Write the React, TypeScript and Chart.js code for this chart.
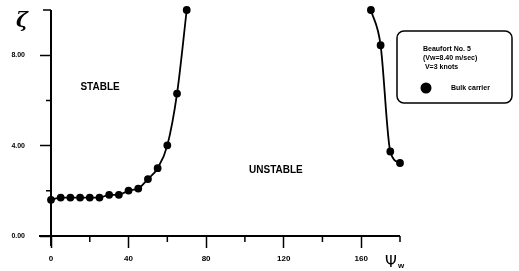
import React, { useEffect, useRef } from "react";
import { Chart, registerables } from "chart.js";
Chart.register(...registerables);

// Heading angle psi_w (deg) and zeta values
const anglesLeft = [0, 5, 10, 15, 20, 25, 30, 35, 40, 45, 50, 55, 60, 65, 70];
const zetaLeft = [1.6, 1.7, 1.7, 1.7, 1.7, 1.7, 1.82, 1.82, 2.01, 2.1, 2.52, 3.0, 4.01, 6.3, 10.0];
const anglesRight = [165, 170, 175, 180];
const zetaRight = [10.0, 8.44, 3.74, 3.23];

const xTickStep = 20;
const xLabelStep = 40;
const yTickStep = 2;
const yLabelStep = 4;

const seriesName = "Bulk carrier";
const legendLines = ["Beaufort No. 5", "(Vw=8.40 m/sec)", " V=3 knots"];
const regionLabels = [
  { text: "STABLE", x: 25.3, y: 6.6 },
  { text: "UNSTABLE", x: 116, y: 2.9 },
];

const FONT = "'Liberation Sans', Arial, sans-serif";

const decor = {
  id: "decor",
  afterDraw(chart: any) {
    const ctx = chart.ctx as CanvasRenderingContext2D;
    const xs = chart.scales.x;
    const ys = chart.scales.y;
    const x0 = xs.getPixelForValue(0);
    const xEnd = xs.getPixelForValue(180);
    const y0 = ys.getPixelForValue(0);
    const yTop = ys.getPixelForValue(10);
    ctx.save();
    ctx.strokeStyle = "#000";
    ctx.fillStyle = "#000";
    // axes lines
    ctx.lineWidth = 2;
    ctx.beginPath();
    ctx.moveTo(x0, yTop);
    ctx.lineTo(x0, y0 + 10);
    ctx.moveTo(x0 - 12, y0);
    ctx.lineTo(xEnd, y0);
    ctx.stroke();
    // minor ticks
    ctx.lineWidth = 1.5;
    ctx.beginPath();
    for (let v = 0; v <= 180; v += xTickStep) {
      if (v % xLabelStep === 0) continue;
      const px = xs.getPixelForValue(v);
      ctx.moveTo(px, y0);
      ctx.lineTo(px, y0 + 6);
    }
    for (let v = 0; v <= 10; v += yTickStep) {
      if (v % yLabelStep === 0) continue;
      const py = ys.getPixelForValue(v);
      ctx.moveTo(x0, py);
      ctx.lineTo(x0 - (v === 10 ? 8 : 5), py);
    }
    ctx.stroke();

    // region labels
    ctx.font = `bold 10px ${FONT}`;
    ctx.textAlign = "center";
    ctx.textBaseline = "middle";
    for (const r of regionLabels) {
      ctx.fillText(r.text, xs.getPixelForValue(r.x), ys.getPixelForValue(r.y));
    }

    // axis titles
    ctx.font = `italic bold 20px 'DejaVu Serif', serif`;
    ctx.textAlign = "center";
    ctx.fillText("ζ", 22, 22);
    ctx.font = `15px 'DejaVu Sans', sans-serif`;
    ctx.textAlign = "left";
    ctx.fillText("Ψ", 385, 263);
    ctx.font = `bold 8px ${FONT}`;
    ctx.fillText("w", 398, 266);

    // legend box
    const bx = 397, by = 31, bw = 115, bh = 72, rr = 7;
    ctx.lineWidth = 1.5;
    ctx.beginPath();
    ctx.moveTo(bx + rr, by);
    ctx.arcTo(bx + bw, by, bx + bw, by + bh, rr);
    ctx.arcTo(bx + bw, by + bh, bx, by + bh, rr);
    ctx.arcTo(bx, by + bh, bx, by, rr);
    ctx.arcTo(bx, by, bx + bw, by, rr);
    ctx.closePath();
    ctx.stroke();
    ctx.font = `bold 7px ${FONT}`;
    ctx.textAlign = "left";
    ctx.textBaseline = "middle";
    legendLines.forEach((t, i) => ctx.fillText(t, 423, 49 + i * 9));
    ctx.beginPath();
    ctx.arc(426, 88, 5.5, 0, Math.PI * 2);
    ctx.fill();
    ctx.fillText(seriesName, 451, 88.5);
    ctx.restore();
  },
};

export default function App() {
  const ref = useRef<HTMLCanvasElement>(null);
  useEffect(() => {
    document.body.style.margin = "0";
    const common = {
      borderColor: "#000",
      backgroundColor: "#000",
      pointBackgroundColor: "#000",
      pointBorderColor: "#000",
      borderWidth: 1.8,
      pointRadius: 3,
      cubicInterpolationMode: "monotone" as const,
      clip: false as any,
      showLine: true,
    };
    const chart = new Chart(ref.current!, {
      type: "line",
      data: {
        datasets: [
          { label: seriesName, data: anglesLeft.map((x, i) => ({ x, y: zetaLeft[i] })), ...common },
          { label: seriesName, data: anglesRight.map((x, i) => ({ x, y: zetaRight[i] })), ...common },
        ],
      },
      options: {
        responsive: false,
        animation: false,
        layout: { padding: { left: 0, top: 10, right: 119, bottom: 0 } },
        plugins: { legend: { display: false }, tooltip: { enabled: false } },
        scales: {
          x: {
            type: "linear",
            min: 0,
            max: 180,
            afterFit: (s: any) => { s.height = 35; s.paddingLeft = 0; s.paddingRight = 0; },
            border: { display: false },
            grid: {
              drawOnChartArea: false,
              tickLength: 12,
              tickWidth: 1.5,
              tickColor: (c: any) => (c.tick && c.tick.value % xLabelStep === 0 ? "#000" : "rgba(0,0,0,0)"),
            },
            ticks: {
              stepSize: xTickStep,
              autoSkip: false,
              maxRotation: 0,
              padding: 6,
              color: "#000",
              font: { family: FONT, size: 8, weight: "bold" },
              callback: (v: any) => (v % xLabelStep === 0 ? String(v) : ""),
            },
          },
          y: {
            type: "linear",
            min: 0,
            max: 10,
            afterFit: (s: any) => { s.width = 51; s.paddingTop = 0; s.paddingBottom = 0; },
            border: { display: false },
            grid: {
              drawOnChartArea: false,
              tickLength: 11,
              tickWidth: 1.5,
              tickColor: (c: any) => (c.tick && c.tick.value % yLabelStep === 0 ? "#000" : "rgba(0,0,0,0)"),
            },
            ticks: {
              stepSize: yTickStep,
              autoSkip: false,
              padding: 15,
              color: "#000",
              font: { family: FONT, size: 7, weight: "bold" },
              callback: (v: any) => (v % yLabelStep === 0 ? Number(v).toFixed(2) : ""),
            },
          },
        },
      },
      plugins: [decor],
    });
    return () => chart.destroy();
  }, []);
  return <canvas ref={ref} width={519} height={271} style={{ display: "block" }} />;
}
